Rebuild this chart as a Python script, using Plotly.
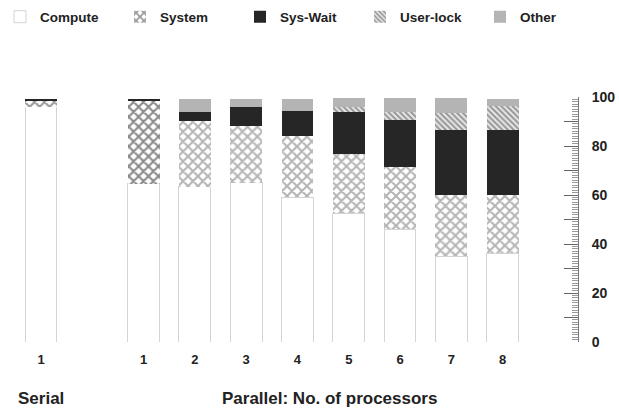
import plotly.graph_objects as go

# ---- data ----
x_pos = [0, 2, 3, 4, 5, 6, 7, 8, 9]
tick_labels = ["1", "1", "2", "3", "4", "5", "6", "7", "8"]
compute  = [96.0, 64.5, 63.4, 65.0, 59.0, 52.6, 46.0, 35.0, 36.3]
system   = [2.5, 34.0, 27.0, 23.0, 25.0, 24.0, 25.6, 25.0, 23.7]
sys_wait = [0.5, 0.5, 3.6, 8.0, 10.4, 17.3, 19.0, 26.5, 26.5]
user_lock = [0.0, 0.0, 0.0, 0.0, 0.0, 2.0, 3.4, 7.0, 10.0]
other    = [0.0, 0.0, 5.0, 3.0, 4.6, 3.6, 5.5, 6.0, 2.5]

FONT = "Liberation Sans"
BW = 0.62

fig = go.Figure()
fig.add_trace(go.Bar(
    x=x_pos, y=compute, name="Compute", width=BW,
    marker=dict(color="white", line=dict(color="#d4d4d4", width=1)),
))
fig.add_trace(go.Bar(
    x=x_pos, y=system, name="System", width=BW,
    marker=dict(color="white", line=dict(width=0),
                pattern=dict(shape="x", fgcolor=["#333", "#111"] + ["#6a6a6a"] * 7,
                             bgcolor="white", size=7, solidity=0.5)),
))
fig.add_trace(go.Bar(
    x=x_pos, y=sys_wait, name="Sys-Wait", width=BW,
    marker=dict(color="#262626", line=dict(width=0)),
))
fig.add_trace(go.Bar(
    x=x_pos, y=user_lock, name="User-lock", width=BW,
    marker=dict(color="white", line=dict(width=0),
                pattern=dict(shape="\\", fgcolor="#444", bgcolor="#e8e8e8",
                             size=4, solidity=0.5)),
))
fig.add_trace(go.Bar(
    x=x_pos, y=other, name="Other", width=BW,
    marker=dict(color="#b4b4b4", line=dict(width=0)),
))

fig.update_layout(
    barmode="stack",
    width=619, height=409,
    margin=dict(l=0, r=41, t=97, b=67),
    paper_bgcolor="white", plot_bgcolor="white",
    font=dict(family=FONT, color="#222", size=13, weight="bold"),
    showlegend=True,
    legend=dict(orientation="h", x=1.035, y=1.39, xanchor="right", yanchor="top",
                entrywidth=75, entrywidthmode="pixels",
                font=dict(family=FONT, size=13.5, weight="bold", color="#222"),
                traceorder="normal"),
    xaxis=dict(range=[-0.8, 10.47], tickvals=x_pos, ticktext=tick_labels,
               showline=False, showgrid=False, zeroline=False, ticks="",
               ticklabelstandoff=8,
               tickfont=dict(family=FONT, size=13, weight="bold", color="#222")),
    yaxis=dict(range=[0, 100], side="right", showgrid=False, zeroline=False,
               showline=True, linecolor="#777", linewidth=1,
               tickvals=list(range(0, 101, 10)),
               ticktext=[str(v) if v % 20 == 0 else "" for v in range(0, 101, 10)],
               ticks="inside", ticklen=14, tickcolor="#666", tickwidth=1,
               ticklabelstandoff=10,
               minor=dict(dtick=1, ticks="inside", ticklen=6, tickcolor="#999", tickwidth=1),
               tickfont=dict(family=FONT, size=14, weight="bold", color="#222")),
    annotations=[
        dict(text="Serial", x=0, y=-0.229, xref="x", yref="paper",
             xanchor="center", yanchor="middle", showarrow=False,
             font=dict(family=FONT, size=17, weight="bold", color="#222")),
        dict(text="Parallel: No. of processors", x=5.63, y=-0.229, xref="x", yref="paper",
             xanchor="center", yanchor="middle", showarrow=False,
             font=dict(family=FONT, size=17, weight="bold", color="#222")),
    ],
)

fig.write_html("out.html")
